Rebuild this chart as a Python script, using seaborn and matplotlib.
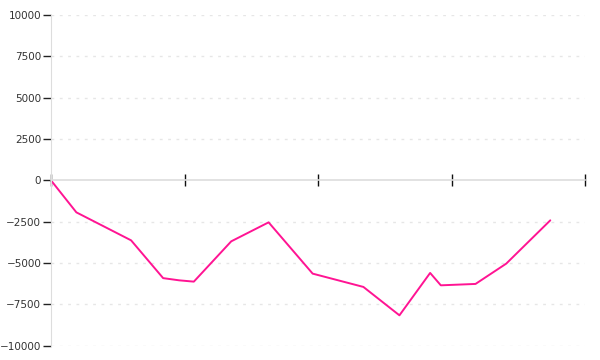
import matplotlib
matplotlib.use("Agg")
import matplotlib.pyplot as plt
import seaborn as sns
import pandas as pd

x_vals = [0.0, 0.19, 0.60, 0.84, 0.96, 1.07, 1.35, 1.63, 1.96, 2.34, 2.61, 2.84, 2.92, 3.05, 3.18, 3.41, 3.74]
y_vals = [0, -1935, -3628, -5913, -6046, -6125, -3688, -2539, -5641, -6445, -8162, -5599, -6348, -6306, -6264, -5036, -2418]
y_ticks = [-10000, -7500, -5000, -2500, 0, 2500, 5000, 7500, 10000]
x_ticks = [0, 1, 2, 3, 4]

df = pd.DataFrame({"x": x_vals, "y": y_vals})

sns.set_style("white")
plt.rcParams["font.family"] = ["DejaVu Sans"]

fig = plt.figure(figsize=(6, 3.6), dpi=100)
ax = fig.add_axes([0.085, 0.0397, 0.89, 0.9186])

sns.lineplot(data=df, x="x", y="y", ax=ax, color="#ff1493", linewidth=1.4)

ax.set_xlim(0, 4)
ax.set_ylim(-10000, 10000)
ax.set_yticks(y_ticks)
ax.set_xticks(x_ticks)
ax.set_xticklabels([])
ax.set_xlabel("")
ax.set_ylabel("")

for v in y_ticks:
    if v != 0:
        ax.axhline(v, color="#e6e6e6", linestyle=(0, (2, 4)), linewidth=1, zorder=0)

for s in ["top", "right"]:
    ax.spines[s].set_visible(False)
ax.spines["left"].set_color("#dddddd")
ax.spines["bottom"].set_position(("data", 0))
ax.spines["bottom"].set_color("#dddddd")
ax.spines["bottom"].set_linewidth(1.2)

ax.tick_params(axis="y", length=6, width=1, color="#222222", labelsize=7.5, labelcolor="#333333", pad=1, left=True)
ax.tick_params(axis="x", direction="inout", length=8, width=1, color="#111111", bottom=True)

fig.savefig("out.png", dpi=100)
